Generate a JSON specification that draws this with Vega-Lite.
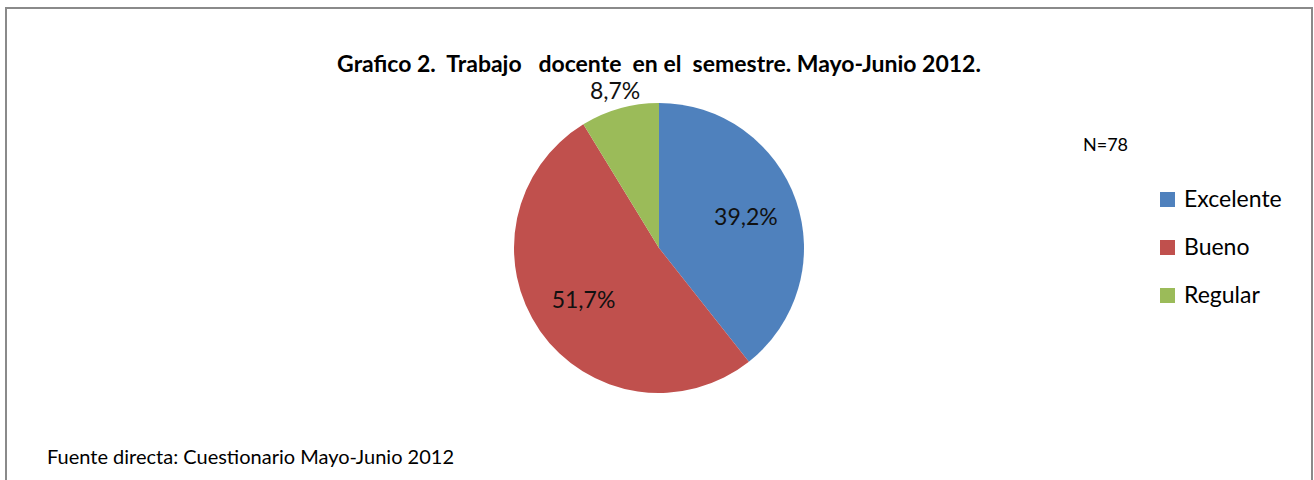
{
  "$schema": "https://vega.github.io/schema/vega-lite/v6.json",
  "padding": {"left": 5, "top": 7, "right": 0, "bottom": 0},
  "background": "white",
  "title": {
    "text": "Grafico 2.\u00a0 Trabajo \u00a0 docente \u00a0en el \u00a0semestre. Mayo-Junio 2012.",
    "font": "Lato",
    "fontSize": 23,
    "fontWeight": "bold",
    "color": "#000000",
    "anchor": "middle",
    "offset": -70
  },
  "data": {
    "values": [
      {"categoria": "Excelente", "valor": 39.2, "etiqueta": "39,2%", "orden": 1},
      {"categoria": "Bueno", "valor": 51.7, "etiqueta": "51,7%", "orden": 2},
      {"categoria": "Regular", "valor": 8.7, "etiqueta": "8,7%", "orden": 3}
    ]
  },
  "vconcat": [
    {
      "width": 1306,
      "height": 480,
      "title": {
        "text": "Fuente directa: Cuestionario Mayo-Junio 2012",
        "orient": "bottom",
        "anchor": "start",
        "offset": -41,
        "dx": 42,
        "font": "Lato",
        "fontSize": 20,
        "fontWeight": "normal",
        "color": "#000000"
      },
      "layer": [
        {
          "data": {"values": [{"marco": "borde"}]},
          "mark": {"type": "rect", "filled": false, "color": "#8a8a8a", "strokeWidth": 2},
          "encoding": {}
        },
        {
          "mark": {"type": "arc", "outerRadius": 145},
          "encoding": {
            "theta": {"field": "valor", "type": "quantitative", "stack": true},
            "order": {"field": "orden", "type": "quantitative"},
            "color": {
              "field": "categoria",
              "type": "nominal",
              "scale": {"domain": ["Excelente", "Bueno", "Regular"], "range": ["#4F81BD", "#C0504D", "#9BBB59"]},
              "legend": {
                "orient": "none",
                "legendX": 1077,
                "legendY": 129,
                "title": "N=78",
                "titleFont": "Lato",
                "titleFontSize": 18,
                "titleFontWeight": "normal",
                "titleColor": "#000000",
                "titlePadding": 33,
                "symbolType": "square",
                "symbolSize": 225,
                "symbolOffset": 73,
                "symbolStrokeWidth": 0,
                "labelFont": "Lato",
                "labelFontSize": 23,
                "labelColor": "#000000",
                "labelOffset": 5,
                "rowPadding": 24
              }
            }
          }
        },
        {
          "mark": {"type": "text", "radius": 92, "font": "Lato", "fontSize": 23, "color": "#111111"},
          "encoding": {
            "theta": {"field": "valor", "type": "quantitative", "stack": true},
            "order": {"field": "orden", "type": "quantitative"},
            "text": {"field": "etiqueta", "type": "nominal"},
            "opacity": {"condition": {"test": "datum.categoria !== 'Regular'", "value": 1}, "value": 0}
          }
        },
        {
          "mark": {"type": "text", "radius": 162, "font": "Lato", "fontSize": 23, "color": "#111111"},
          "encoding": {
            "theta": {"field": "valor", "type": "quantitative", "stack": true},
            "order": {"field": "orden", "type": "quantitative"},
            "text": {"field": "etiqueta", "type": "nominal"},
            "opacity": {"condition": {"test": "datum.categoria === 'Regular'", "value": 1}, "value": 0}
          }
        }
      ]
    }
  ],
  "config": {
    "view": {"stroke": "#8a8a8a", "strokeWidth": 2},
    "concat": {"spacing": 0}
  }
}
